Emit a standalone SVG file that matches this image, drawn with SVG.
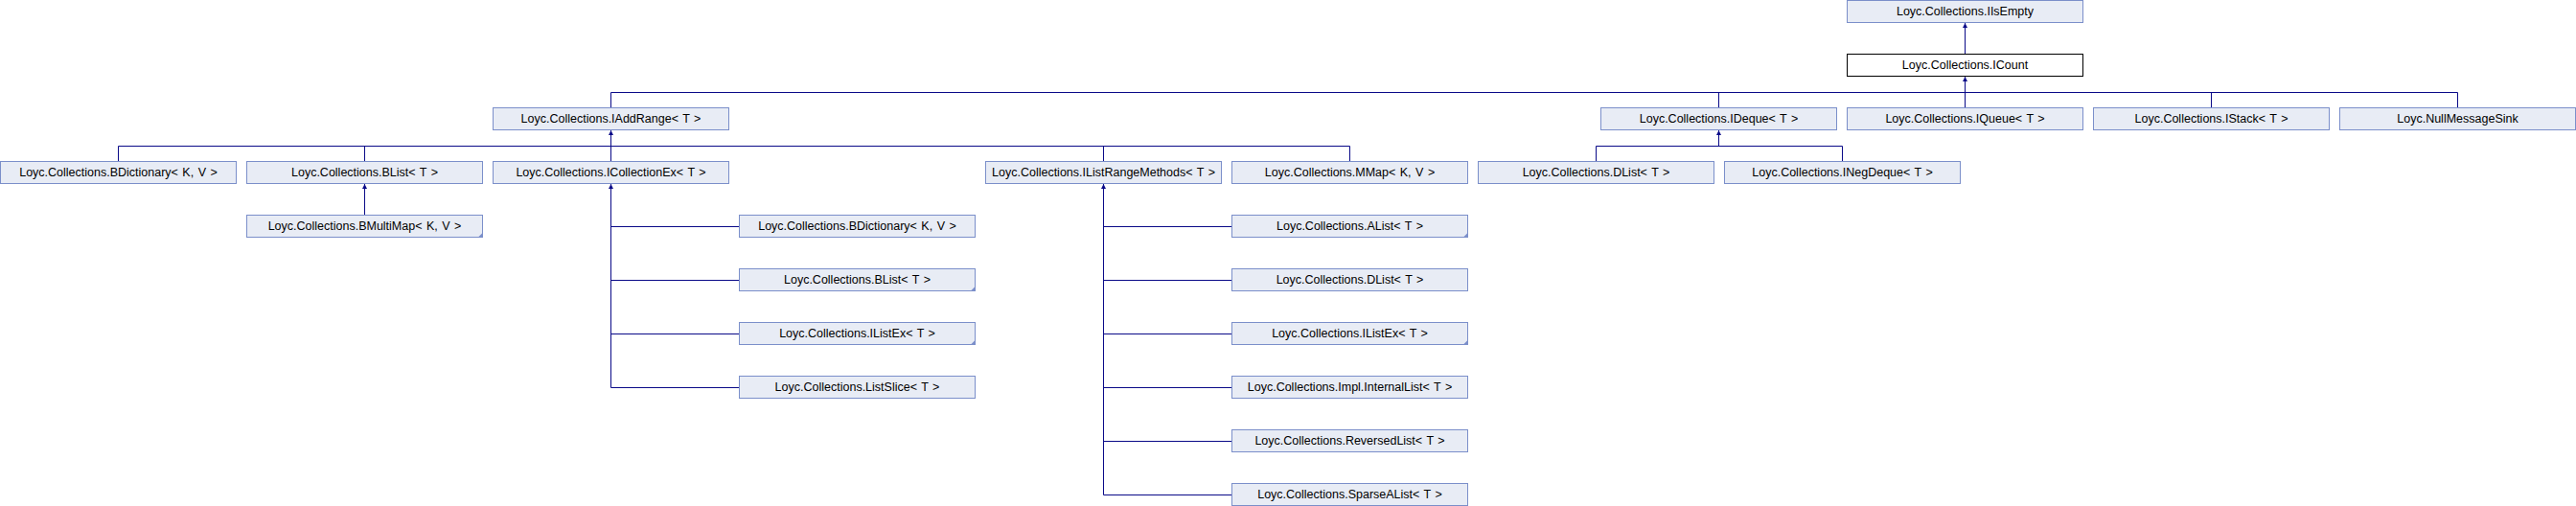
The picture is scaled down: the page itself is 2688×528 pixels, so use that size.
<svg xmlns="http://www.w3.org/2000/svg" width="2688" height="528" viewBox="0 0 2688 528">
<style>
.n rect{fill:#e8ecf5;stroke:#7b8fca;stroke-width:1}
.n.cur rect{fill:#ffffff;stroke:#000000}
.n text{font-family:"Liberation Sans",Arial,sans-serif;font-size:12.5px;fill:#000;text-anchor:middle;word-spacing:1px}
.n polygon{fill:#7b8fca}
#edges line{stroke:#0a0a88;stroke-width:1;fill:none}
</style>
<defs>
<marker id="ah" viewBox="0 0 10 10" refX="10" refY="5" markerWidth="5" markerHeight="5" markerUnits="userSpaceOnUse" orient="auto">
<path d="M0,0 L10,5 L0,10 z" fill="#0a0a88"/>
</marker>
</defs>
<rect x="0" y="0" width="2688" height="528" fill="#ffffff"/>
<g id="edges">
<line x1="2050.5" y1="56.5" x2="2050.5" y2="24" marker-end="url(#ah)"/>
<line x1="637.5" y1="96.5" x2="2564.5" y2="96.5"/>
<line x1="2050.5" y1="96.5" x2="2050.5" y2="80" marker-end="url(#ah)"/>
<line x1="637.5" y1="96.5" x2="637.5" y2="112.5"/>
<line x1="1793.5" y1="96.5" x2="1793.5" y2="112.5"/>
<line x1="2050.5" y1="96.5" x2="2050.5" y2="112.5"/>
<line x1="2307.5" y1="96.5" x2="2307.5" y2="112.5"/>
<line x1="2564.5" y1="96.5" x2="2564.5" y2="112.5"/>
<line x1="123.5" y1="152.5" x2="1408.5" y2="152.5"/>
<line x1="637.5" y1="152.5" x2="637.5" y2="136" marker-end="url(#ah)"/>
<line x1="123.5" y1="152.5" x2="123.5" y2="168.5"/>
<line x1="380.5" y1="152.5" x2="380.5" y2="168.5"/>
<line x1="637.5" y1="152.5" x2="637.5" y2="168.5"/>
<line x1="1151.5" y1="152.5" x2="1151.5" y2="168.5"/>
<line x1="1408.5" y1="152.5" x2="1408.5" y2="168.5"/>
<line x1="1665.5" y1="152.5" x2="1922.5" y2="152.5"/>
<line x1="1793.5" y1="152.5" x2="1793.5" y2="136" marker-end="url(#ah)"/>
<line x1="1665.5" y1="152.5" x2="1665.5" y2="168.5"/>
<line x1="1922.5" y1="152.5" x2="1922.5" y2="168.5"/>
<line x1="380.5" y1="224.5" x2="380.5" y2="192" marker-end="url(#ah)"/>
<line x1="637.5" y1="404.5" x2="637.5" y2="192" marker-end="url(#ah)"/>
<line x1="637.5" y1="236.5" x2="771.5" y2="236.5"/>
<line x1="637.5" y1="292.5" x2="771.5" y2="292.5"/>
<line x1="637.5" y1="348.5" x2="771.5" y2="348.5"/>
<line x1="637.5" y1="404.5" x2="771.5" y2="404.5"/>
<line x1="1151.5" y1="516.5" x2="1151.5" y2="192" marker-end="url(#ah)"/>
<line x1="1151.5" y1="236.5" x2="1285.5" y2="236.5"/>
<line x1="1151.5" y1="292.5" x2="1285.5" y2="292.5"/>
<line x1="1151.5" y1="348.5" x2="1285.5" y2="348.5"/>
<line x1="1151.5" y1="404.5" x2="1285.5" y2="404.5"/>
<line x1="1151.5" y1="460.5" x2="1285.5" y2="460.5"/>
<line x1="1151.5" y1="516.5" x2="1285.5" y2="516.5"/>
</g>
<g id="IIsEmpty" class="n"><rect x="1927.5" y="0.5" width="246" height="23"/><text x="2050.5" y="15.5">Loyc.Collections.IIsEmpty</text></g>
<g id="ICount" class="n cur"><rect x="1927.5" y="56.5" width="246" height="23"/><text x="2050.5" y="71.5">Loyc.Collections.ICount</text></g>
<g id="IAddRange" class="n"><rect x="514.5" y="112.5" width="246" height="23"/><text x="637.5" y="127.5">Loyc.Collections.IAddRange&lt; T &gt;</text></g>
<g id="IDeque" class="n"><rect x="1670.5" y="112.5" width="246" height="23"/><text x="1793.5" y="127.5">Loyc.Collections.IDeque&lt; T &gt;</text></g>
<g id="IQueue" class="n"><rect x="1927.5" y="112.5" width="246" height="23"/><text x="2050.5" y="127.5">Loyc.Collections.IQueue&lt; T &gt;</text></g>
<g id="IStack" class="n"><rect x="2184.5" y="112.5" width="246" height="23"/><text x="2307.5" y="127.5">Loyc.Collections.IStack&lt; T &gt;</text></g>
<g id="NullMessageSink" class="n"><rect x="2441.5" y="112.5" width="246" height="23"/><text x="2564.5" y="127.5">Loyc.NullMessageSink</text></g>
<g id="BDictionary" class="n"><rect x="0.5" y="168.5" width="246" height="23"/><text x="123.5" y="183.5">Loyc.Collections.BDictionary&lt; K, V &gt;</text></g>
<g id="BList" class="n"><rect x="257.5" y="168.5" width="246" height="23"/><text x="380.5" y="183.5">Loyc.Collections.BList&lt; T &gt;</text></g>
<g id="ICollectionEx" class="n"><rect x="514.5" y="168.5" width="246" height="23"/><text x="637.5" y="183.5">Loyc.Collections.ICollectionEx&lt; T &gt;</text></g>
<g id="IListRangeMethods" class="n"><rect x="1028.5" y="168.5" width="246" height="23"/><text x="1151.5" y="183.5">Loyc.Collections.IListRangeMethods&lt; T &gt;</text></g>
<g id="MMap" class="n"><rect x="1285.5" y="168.5" width="246" height="23"/><text x="1408.5" y="183.5">Loyc.Collections.MMap&lt; K, V &gt;</text></g>
<g id="DList" class="n"><rect x="1542.5" y="168.5" width="246" height="23"/><text x="1665.5" y="183.5">Loyc.Collections.DList&lt; T &gt;</text></g>
<g id="INegDeque" class="n"><rect x="1799.5" y="168.5" width="246" height="23"/><text x="1922.5" y="183.5">Loyc.Collections.INegDeque&lt; T &gt;</text></g>
<g id="BMultiMap" class="n"><rect x="257.5" y="224.5" width="246" height="23"/><polygon points="498.5,248 504,242.5 504,248"/><text x="380.5" y="239.5">Loyc.Collections.BMultiMap&lt; K, V &gt;</text></g>
<g id="BDictionary2" class="n"><rect x="771.5" y="224.5" width="246" height="23"/><text x="894.5" y="239.5">Loyc.Collections.BDictionary&lt; K, V &gt;</text></g>
<g id="BList2" class="n"><rect x="771.5" y="280.5" width="246" height="23"/><polygon points="1012.5,304 1018,298.5 1018,304"/><text x="894.5" y="295.5">Loyc.Collections.BList&lt; T &gt;</text></g>
<g id="IListEx" class="n"><rect x="771.5" y="336.5" width="246" height="23"/><polygon points="1012.5,360 1018,354.5 1018,360"/><text x="894.5" y="351.5">Loyc.Collections.IListEx&lt; T &gt;</text></g>
<g id="ListSlice" class="n"><rect x="771.5" y="392.5" width="246" height="23"/><text x="894.5" y="407.5">Loyc.Collections.ListSlice&lt; T &gt;</text></g>
<g id="AList" class="n"><rect x="1285.5" y="224.5" width="246" height="23"/><polygon points="1526.5,248 1532,242.5 1532,248"/><text x="1408.5" y="239.5">Loyc.Collections.AList&lt; T &gt;</text></g>
<g id="DList2" class="n"><rect x="1285.5" y="280.5" width="246" height="23"/><text x="1408.5" y="295.5">Loyc.Collections.DList&lt; T &gt;</text></g>
<g id="IListEx2" class="n"><rect x="1285.5" y="336.5" width="246" height="23"/><polygon points="1526.5,360 1532,354.5 1532,360"/><text x="1408.5" y="351.5">Loyc.Collections.IListEx&lt; T &gt;</text></g>
<g id="InternalList" class="n"><rect x="1285.5" y="392.5" width="246" height="23"/><text x="1408.5" y="407.5">Loyc.Collections.Impl.InternalList&lt; T &gt;</text></g>
<g id="ReversedList" class="n"><rect x="1285.5" y="448.5" width="246" height="23"/><text x="1408.5" y="463.5">Loyc.Collections.ReversedList&lt; T &gt;</text></g>
<g id="SparseAList" class="n"><rect x="1285.5" y="504.5" width="246" height="23"/><text x="1408.5" y="519.5">Loyc.Collections.SparseAList&lt; T &gt;</text></g>
</svg>
